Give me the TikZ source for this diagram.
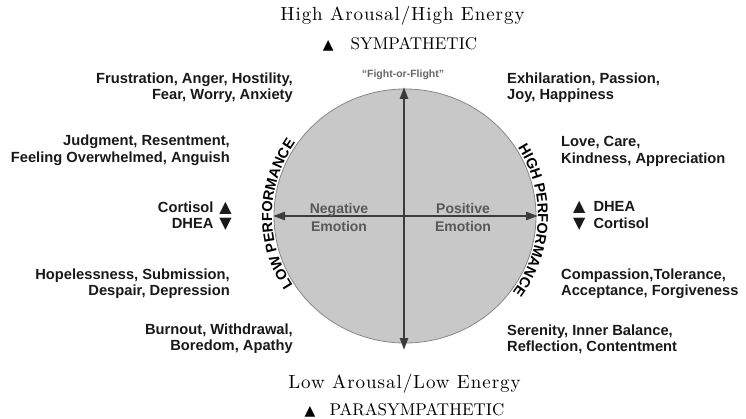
\documentclass[tikz,border=0pt]{standalone}
\usepackage{fontspec}
\setsansfont{Liberation Sans}
\newfontfamily\trifont{DejaVu Sans}
\newfontfamily\headfont{lmroman10-regular}[Extension=.otf]
\usetikzlibrary{arrows.meta, positioning, decorations.text}
\definecolor{discgray}{RGB}{200,200,200}
\definecolor{rimgray}{RGB}{135,135,135}
\definecolor{axisgray}{RGB}{60,60,60}
\definecolor{quadgray}{RGB}{88,88,88}
\newcommand{\perffont}{\sffamily\bfseries\fontsize{14.5}{16}\selectfont}
\newcommand{\up}[1][13]{{\trifont\fontsize{#1}{#1}\selectfont ▲}}
\newcommand{\down}[1][13]{{\trifont\fontsize{#1}{#1}\selectfont ▼}}

\begin{document}
\begin{tikzpicture}[
    x=1pt, y=1pt,
    emo/.style={font=\sffamily\bfseries\fontsize{14.7}{16.5}\selectfont, inner sep=0pt, text=black!90},
    neglab/.style={emo, align=right, anchor=east},
    poslab/.style={emo, align=left, anchor=west},
    quad/.style={font=\sffamily\bfseries\fontsize{14}{18}\selectfont, text=quadgray, align=center, inner sep=0pt},
    arousal/.style={font=\headfont\fontsize{19}{22}\selectfont\addfontfeatures{LetterSpace=5}, inner sep=0pt, anchor=base},
    nerve/.style={font=\headfont\fontsize{17}{20}\selectfont, inner sep=0pt, anchor=base},
    arrowaxis/.style={draw=axisgray, line width=2.4pt,
                      {Triangle[length=12pt,width=8pt]}-{Triangle[length=12pt,width=8pt]}}
]
    \useasboundingbox (0,0) rectangle (746,418);

    % Disc and axes
    \coordinate (c) at (405,202);
    \draw[rimgray, fill=discgray, line width=0.8pt] (c) ellipse[x radius=131pt, y radius=127pt];
    \coordinate (top) at (404,331);
    \coordinate (bot) at (404,68);
    \coordinate (lft) at (273,202);
    \coordinate (rgt) at (538,202);
    \draw[arrowaxis] (bot) -- (top);
    \draw[arrowaxis] (lft) -- (rgt);

    \node[font=\sffamily\bfseries\fontsize{10.5}{12}\selectfont, text=black!60, inner sep=0pt]
        (fof) at (403,343) {“Fight-or-Flight”};
    \node[quad] (negemo) at (339,200.5) {Negative\\Emotion};
    \node[quad] (posemo) at (463,200.5) {Positive\\Emotion};

    % Performance along the rim
    \path[decorate, decoration={text along path, text align=center,
          text={|\perffont|LOW PERFORMANCE}}]
        (c) ++(214:133pt and 129pt) arc[start angle=214, end angle=144, x radius=133pt, y radius=129pt];
    \path[decorate, decoration={text along path, text align=center,
          text={|\perffont|HIGH PERFORMANCE}}]
        (c) ++(38:133pt and 129pt) arc[start angle=38, end angle=-42, x radius=133pt, y radius=129pt];

    % Arousal
    \node[arousal] (high) at (402.5,397) {High Arousal/High Energy};
    \node[nerve] (symp) at (400,368) {\up[14]\hspace{17pt}SYMPATHETIC};
    \node[arousal] (low) at (404.5,30) {Low Arousal/Low Energy};
    \node[nerve] (para) at (404.5,3) {\up[14]\hspace{14pt}PARASYMPATHETIC};

    % Negative side
    \node[neglab] (frust) at (293,330.5) {Frustration, Anger, Hostility,\\Fear, Worry, Anxiety};
    \node[neglab] (judg) at (230,268) {Judgment, Resentment,\\Feeling Overwhelmed, Anguish};
    \node[neglab, left=41pt of lft] (cortl) {Cortisol\hspace{6pt}\up[16]\\DHEA\hspace{6pt}\down[16]};
    \node[neglab] (hope) at (230,134.5) {Hopelessness, Submission,\\Despair, Depression};
    \node[neglab] (burn) at (293,79.5) {Burnout, Withdrawal,\\Boredom, Apathy};

    % Positive side
    \node[poslab] (exhil) at (507,330.5) {Exhilaration, Passion,\\Joy, Happiness};
    \node[poslab] (love) at (561,266.5) {Love, Care,\\Kindness, Appreciation};
    \node[poslab, right=35pt of rgt] (dhear) {\up[16]\hspace{8pt}DHEA\\\down[16]\hspace{8pt}Cortisol};
    \node[poslab] (comp) at (561,134.5) {Compassion,Tolerance,\\Acceptance, Forgiveness};
    \node[poslab] (seren) at (507,78.5) {Serenity, Inner Balance,\\Reflection, Contentment};
\end{tikzpicture}
\end{document}
